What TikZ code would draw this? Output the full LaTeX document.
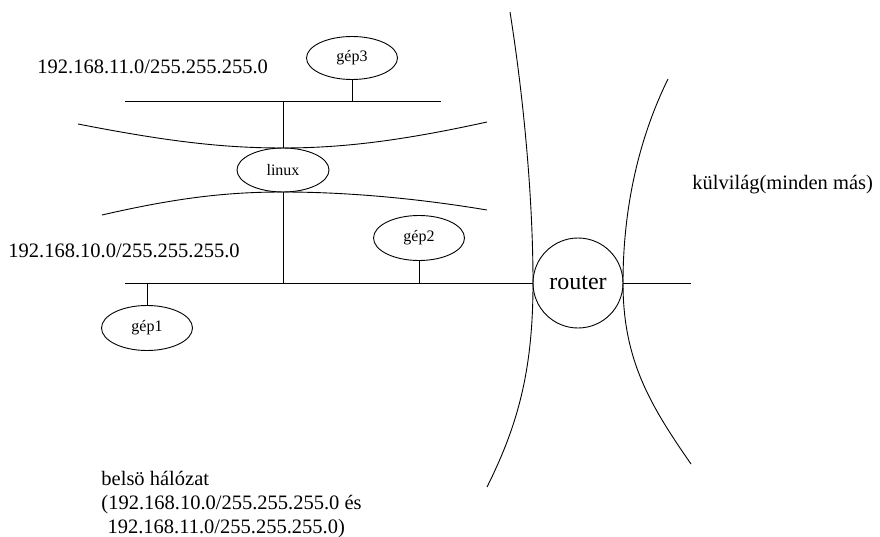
\documentclass[tikz,border=0pt]{standalone}
\usepackage{fontspec}
\setmainfont{Liberation Serif}
\usetikzlibrary{shapes.geometric}
\begin{document}
\begin{tikzpicture}[x=1pt,y=-1pt,line width=0.9pt,
  host/.style={draw,ellipse,inner sep=0pt,minimum width=91pt,minimum height=43pt,font=\fontsize{16}{19}\selectfont},
  biglabel/.style={inner sep=0pt,anchor=west,font=\fontsize{20.5}{25}\selectfont},
  bus/.style={draw},
  border/.style={draw}]
\useasboundingbox (0,0) rectangle (880,537);
% nodes
\node[host] (gep3) at (352,58) {gép3};
\node[host,minimum width=92pt,minimum height=44pt] (linux) at (283,170) {linux};
\node[host,minimum height=45pt] (gep2) at (419,238) {gép2};
\node[host,minimum height=45pt] (gep1) at (147,328) {gép1};
\node[draw,circle,inner sep=0pt,minimum size=90pt,font=\fontsize{24}{28}\selectfont] (router) at (578,283) {router};
% bus end points
\coordinate (topL) at (125,101);
\coordinate (topR) at (441,101);
\coordinate (lowL) at (125,283);
\coordinate (outR) at (691,283);
% buses
\draw[bus] (topL) -- (topR);
\draw[bus] (lowL) -- (router.west);
\draw[bus] (router.east) -- (outR);
% drops
\draw (gep3.south) -- (gep3.south |- topL);
\draw (linux.north) -- (linux.north |- topL);
\draw (linux.south) -- (linux.south |- lowL);
\draw (gep2.south) -- (gep2.south |- lowL);
\draw (gep1.north) -- (gep1.north |- lowL);
% network borders
\draw[border] (78,124) .. controls (170,142) and (225,148) .. (283,148)
              .. controls (345,148) and (405,140) .. (487,122);
\draw[border] (102,215) .. controls (180,197) and (230,192) .. (283,192)
              .. controls (345,192) and (415,198) .. (487,210);
\draw[border] (510,12) .. controls (524,100) and (533,200) .. (533,283)
              .. controls (533,370) and (518,425) .. (487,487);
\draw[border] (668,79) .. controls (638,140) and (623,210) .. (623,283)
              .. controls (623,360) and (650,405) .. (691,464);
% labels
\node[biglabel] (net11) at (37,67) {192.168.11.0/255.255.255.0};
\node[biglabel] (net10) at (8,251) {192.168.10.0/255.255.255.0};
\node[biglabel] (kulvilag) at (692,185) {külvilág(minden más)};
\node[inner sep=0pt,anchor=north west,align=left,font=\fontsize{20.5}{24}\selectfont] (belso) at (101,471)
  {belsö hálózat\\(192.168.10.0/255.255.255.0 és\\\hspace*{0.3em}192.168.11.0/255.255.255.0)};
\end{tikzpicture}
\end{document}
